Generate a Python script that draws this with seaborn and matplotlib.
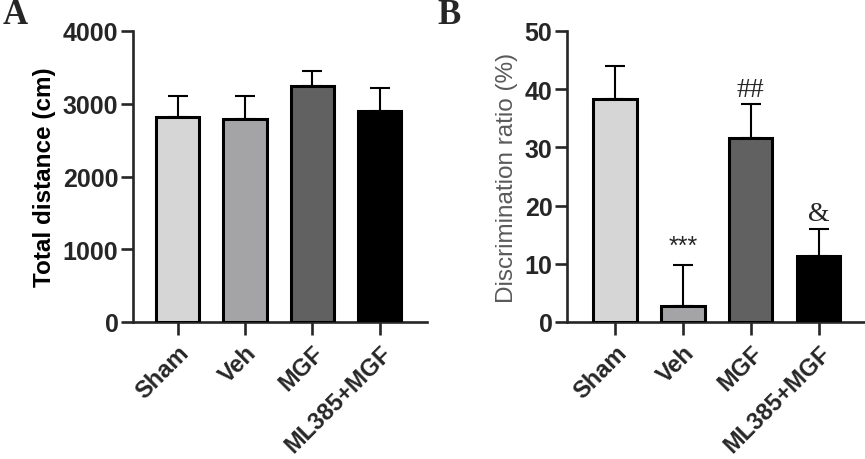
import numpy as np
import pandas as pd
import matplotlib
matplotlib.use("Agg")
import matplotlib.pyplot as plt
import seaborn as sns

# data
groups = ["Sham", "Veh", "MGF", "ML385+MGF"]
distance_mean = [2820, 2790, 3250, 2900]
distance_err = [280, 320, 200, 310]
ratio_mean = [38.4, 2.8, 31.6, 11.3]
ratio_err = [5.6, 7.0, 5.8, 4.7]
ratio_marks = ["", "***", "##", "&"]
bar_colors = ["#d6d6d6", "#a3a3a8", "#616161", "#000000"]

sns.set_style("ticks")
plt.rcParams["font.family"] = ["Liberation Sans", "DejaVu Sans"]

fig = plt.figure(figsize=(8.65, 4.6), dpi=100)
ax_a = fig.add_axes([133 / 865, 137 / 460, 294 / 865, 291 / 460])
ax_b = fig.add_axes([567 / 865, 137 / 460, 297 / 865, 291 / 460])


def draw_panel(ax, means, errs, ylim, yticks, ylabel, ylabel_color, ylabel_weight, xlim):
    df = pd.DataFrame({"group": groups, "value": means})
    sns.barplot(data=df, x="group", y="value", hue="group", palette=bar_colors,
                legend=False, width=0.64, edgecolor="black", linewidth=2.2,
                ax=ax, zorder=3)
    ax.errorbar(np.arange(len(groups)), means, yerr=[np.zeros(len(errs)), errs],
                fmt="none", ecolor="black", elinewidth=1.5, capsize=7.5,
                capthick=1.5, zorder=2)
    ax.set_ylim(*ylim)
    ax.set_yticks(yticks)
    ax.set_xlim(*xlim)
    ax.set_xlabel("")
    ax.set_ylabel(ylabel, fontsize=17.5, fontweight=ylabel_weight,
                  color=ylabel_color, labelpad=5)
    for side in ["top", "right"]:
        ax.spines[side].set_visible(False)
    for side in ["left", "bottom"]:
        ax.spines[side].set_linewidth(1.9)
    ax.tick_params(axis="both", width=1.9, length=8.5, labelsize=18, direction="out", pad=2)
    ax.tick_params(axis="x", length=9.5, pad=4)
    for lab in ax.get_yticklabels():
        lab.set_fontweight("bold")
    ax.set_xticks(range(len(groups)))
    ax.set_xticklabels(groups, rotation=45, ha="right", rotation_mode="anchor",
                       fontweight="bold", fontsize=17)


draw_panel(ax_a, distance_mean, distance_err, (0, 4000), [0, 1000, 2000, 3000, 4000],
           "Total distance (cm)", "black", "bold", (-0.66, 3.70))
draw_panel(ax_b, ratio_mean, ratio_err, (0, 50), [0, 10, 20, 30, 40, 50],
           "Discrimination ratio (%)", "#5a5a5a", "normal", (-0.71, 3.67))

# significance marks above error bars
for i, mark in enumerate(ratio_marks):
    if not mark:
        continue
    top = ratio_mean[i] + ratio_err[i]
    if mark == "***":
        ax_b.annotate(mark, (i, top), xytext=(0, 5), textcoords="offset points",
                      ha="center", va="bottom", fontsize=18)
    else:
        ax_b.annotate(mark, (i, top), xytext=(0, 2), textcoords="offset points",
                      ha="center", va="bottom", fontsize=20,
                      family=["Liberation Serif", "DejaVu Serif"])

fig.text(3 / 865, 1 - 16 / 460, "A", fontsize=25, fontweight="bold",
         family=["Liberation Serif", "DejaVu Serif"], va="center", ha="left")
fig.text(437 / 865, 1 - 16 / 460, "B", fontsize=25, fontweight="bold",
         family=["Liberation Serif", "DejaVu Serif"], va="center", ha="left")

fig.savefig("out.png", dpi=100)
